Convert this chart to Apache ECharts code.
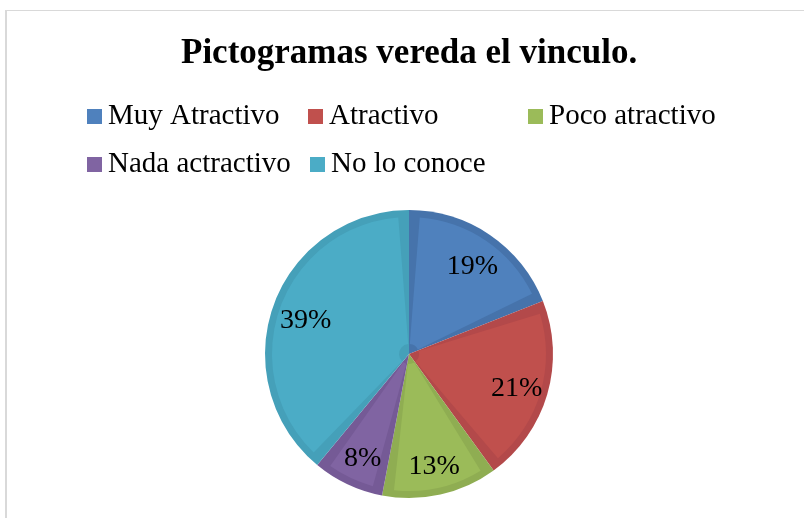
<!DOCTYPE html>
<html>
<head>
<meta charset="utf-8">
<script src="https://cdn.jsdelivr.net/npm/echarts@6/dist/echarts.min.js"></script>
<style>
  html, body { margin: 0; padding: 0; background: #fff; }
  .frame {
    position: absolute;
    left: 5px;
    top: 10px;
    width: 900px;
    height: 600px;
    border-top: 1px solid #d9d9d9;
    border-left: 2px solid #d9d9d9;
  }
  #chart { position: absolute; left: 0; top: 0; width: 804px; height: 518px; }
</style>
</head>
<body>
<div class="frame"></div>
<div id="chart"></div>
<script>
const title = 'Pictogramas vereda el vinculo.'
const categories = ['Muy Atractivo', 'Atractivo', 'Poco atractivo', 'Nada actractivo', 'No lo conoce']
const percentages = [19, 21, 13, 8, 39]

const faceColors = ['#4f81bd', '#c0504d', '#9bbb59', '#8064a2', '#4bacc6']
const bandColors = ['#4673ab', '#b3494a', '#8fad52', '#755a96', '#45a0b9']

// legend items sit in fixed columns, so one legend per item
const legendSpots = [
  { left: 87, top: 102 },
  { left: 308, top: 102 },
  { left: 528, top: 102 },
  { left: 87, top: 150 },
  { left: 310, top: 150 },
]

const serif = '"Liberation Serif", "Times New Roman", serif'
const chart = echarts.init(document.getElementById('chart'))

const pieData = (colors) =>
  categories.map((name, i) => ({ name, value: percentages[i], itemStyle: { color: colors[i] } }))

chart.setOption({
  animation: false,
  title: {
    text: title,
    left: 176,
    top: 31,
    textStyle: { fontFamily: serif, fontSize: 35, fontWeight: 'bold', color: '#000' },
  },
  legend: categories.map((name, i) => ({
    data: [{ name, itemStyle: { color: faceColors[i] } }],
    left: legendSpots[i].left,
    top: legendSpots[i].top,
    padding: 0,
    icon: 'rect',
    itemWidth: 15,
    itemHeight: 15,
    selectedMode: false,
    textStyle: { fontFamily: serif, fontSize: 29, color: '#000', padding: [0, 0, 0, 1] },
  })),
  series: [
    {
      name: 'band',
      type: 'pie',
      center: [409, 354],
      radius: [0, 144],
      startAngle: 90,
      clockwise: true,
      silent: true,
      label: { show: false },
      labelLine: { show: false },
      data: pieData(bandColors),
    },
    {
      name: 'face',
      type: 'pie',
      center: [409, 354],
      radius: [10, 137],
      startAngle: 90,
      clockwise: true,
      padAngle: 9,
      silent: true,
      label: { show: false },
      labelLine: { show: false },
      data: pieData(faceColors),
    },
    {
      name: 'labels',
      type: 'pie',
      center: [410, 358],
      radius: [76, 140],
      startAngle: 90,
      clockwise: true,
      silent: true,
      itemStyle: { color: 'rgba(0,0,0,0)' },
      label: {
        show: true,
        position: 'inside',
        formatter: '{c}%',
        fontFamily: serif,
        fontSize: 28,
        color: '#000',
      },
      labelLine: { show: false },
      data: categories.map((name, i) => ({ name, value: percentages[i] })),
    },
  ],
})
</script>
</body>
</html>
